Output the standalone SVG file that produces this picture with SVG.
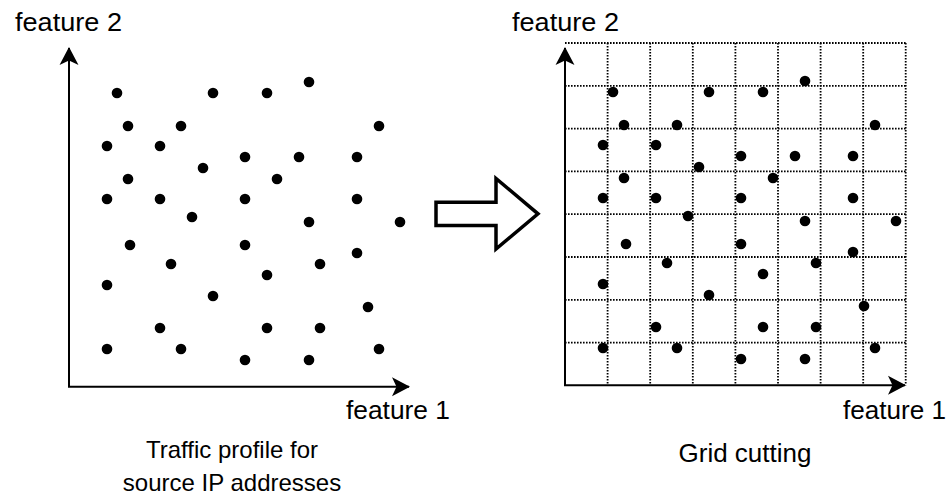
<svg xmlns="http://www.w3.org/2000/svg" xmlns:xlink="http://www.w3.org/1999/xlink" width="948" height="495" viewBox="0 0 948 495">
<style>
  .lbl { font-family: "Liberation Sans", Arial, Helvetica, sans-serif; font-size: 26px; fill: #000; }
  .cap { font-family: "Liberation Sans", Arial, Helvetica, sans-serif; font-size: 24px; fill: #000; text-anchor: middle; }
  .axis { stroke: #000; stroke-width: 2; fill: none; }
  .grid { stroke: #000; stroke-width: 1.8; stroke-dasharray: 1.6 1.4; fill: none; }
  .dot { fill: #000; }
  .block { fill: #fff; stroke: #000; stroke-width: 3.5; stroke-linejoin: miter; }
</style>
<defs>
  <marker id="ah" viewBox="0 0 18 20" refX="17" refY="10" markerWidth="18" markerHeight="20" markerUnits="userSpaceOnUse" orient="auto">
    <path d="M18,10 L0,0.5 L4.5,10 L0,19.5 Z" fill="#000"/>
  </marker>
  <g id="points">
    <circle class="dot" cx="117" cy="93" r="5.3"/>
    <circle class="dot" cx="213" cy="93" r="5.3"/>
    <circle class="dot" cx="267" cy="93" r="5.3"/>
    <circle class="dot" cx="309" cy="82" r="5.3"/>
    <circle class="dot" cx="128" cy="126" r="5.3"/>
    <circle class="dot" cx="181" cy="126" r="5.3"/>
    <circle class="dot" cx="379" cy="126" r="5.3"/>
    <circle class="dot" cx="107" cy="146" r="5.3"/>
    <circle class="dot" cx="160" cy="146" r="5.3"/>
    <circle class="dot" cx="245" cy="157" r="5.3"/>
    <circle class="dot" cx="299" cy="157" r="5.3"/>
    <circle class="dot" cx="357" cy="157" r="5.3"/>
    <circle class="dot" cx="203" cy="168" r="5.3"/>
    <circle class="dot" cx="128" cy="179" r="5.3"/>
    <circle class="dot" cx="277" cy="179" r="5.3"/>
    <circle class="dot" cx="107" cy="199" r="5.3"/>
    <circle class="dot" cx="160" cy="199" r="5.3"/>
    <circle class="dot" cx="245" cy="199" r="5.3"/>
    <circle class="dot" cx="357" cy="199" r="5.3"/>
    <circle class="dot" cx="192" cy="217" r="5.3"/>
    <circle class="dot" cx="309" cy="222" r="5.3"/>
    <circle class="dot" cx="400" cy="222" r="5.3"/>
    <circle class="dot" cx="130" cy="245" r="5.3"/>
    <circle class="dot" cx="245" cy="245" r="5.3"/>
    <circle class="dot" cx="357" cy="253" r="5.3"/>
    <circle class="dot" cx="171" cy="264" r="5.3"/>
    <circle class="dot" cx="320" cy="264" r="5.3"/>
    <circle class="dot" cx="267" cy="275" r="5.3"/>
    <circle class="dot" cx="107" cy="285" r="5.3"/>
    <circle class="dot" cx="213" cy="296" r="5.3"/>
    <circle class="dot" cx="368" cy="307" r="5.3"/>
    <circle class="dot" cx="160" cy="328" r="5.3"/>
    <circle class="dot" cx="267" cy="328" r="5.3"/>
    <circle class="dot" cx="320" cy="328" r="5.3"/>
    <circle class="dot" cx="107" cy="349" r="5.3"/>
    <circle class="dot" cx="181" cy="349" r="5.3"/>
    <circle class="dot" cx="379" cy="349" r="5.3"/>
    <circle class="dot" cx="245" cy="360" r="5.3"/>
    <circle class="dot" cx="309" cy="360" r="5.3"/>
  </g>
</defs>
<rect width="948" height="495" fill="#fff"/>

<g id="right-grid">
  <path class="grid" d="M565,43 H905.7 M565,85.8 H905.7 M565,128.6 H905.7 M565,171.4 H905.7 M565,214.2 H905.7 M565,257 H905.7 M565,299.8 H905.7 M565,342.6 H905.7"/>
  <path class="grid" d="M607.6,43 V385.3 M650.2,43 V385.3 M692.8,43 V385.3 M735.4,43 V385.3 M778,43 V385.3 M820.6,43 V385.3 M863.2,43 V385.3 M905.7,43 V385.3"/>
</g>

<g id="left-points">
  <use xlink:href="#points" href="#points"/>
</g>
<g id="right-points">
  <use xlink:href="#points" href="#points" transform="translate(496,-1)"/>
</g>

<g id="connectors">
  <path class="axis" d="M69,386.7 V48" marker-end="url(#ah)"/>
  <path class="axis" d="M68,386.7 H409" marker-end="url(#ah)"/>
  <path class="axis" d="M565,385.3 V48" marker-end="url(#ah)"/>
  <path class="axis" d="M564,385.3 H905" marker-end="url(#ah)"/>
</g>

<g id="transform-arrow">
  <polygon class="block" points="436,202.3 496,202.3 496,178.5 538,213.8 496,249 496,225.5 436,225.5"/>
</g>

<g id="labels">
  <text class="lbl" x="15" y="31" textLength="107" lengthAdjust="spacingAndGlyphs">feature 2</text>
  <text class="lbl" x="512" y="31" textLength="107" lengthAdjust="spacingAndGlyphs">feature 2</text>
  <text class="lbl" x="346" y="419" textLength="104" lengthAdjust="spacingAndGlyphs">feature 1</text>
  <text class="lbl" x="843" y="419" textLength="103" lengthAdjust="spacingAndGlyphs">feature 1</text>
  <text class="cap" x="232" y="458">Traffic profile for</text>
  <text class="cap" x="232" y="491">source IP addresses</text>
  <text class="lbl" x="745" y="462" text-anchor="middle">Grid cutting</text>
</g>
</svg>
